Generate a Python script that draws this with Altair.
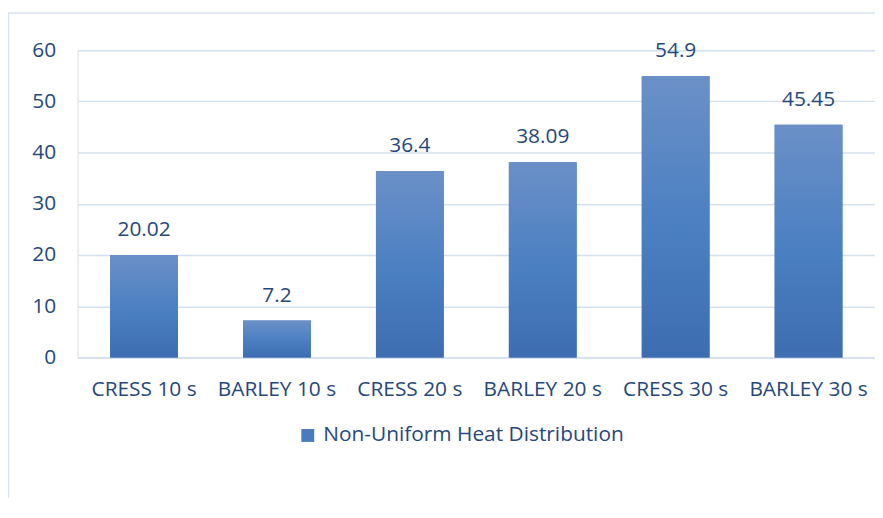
import altair as alt
import pandas as pd

categories = ["CRESS 10 s", "BARLEY 10 s", "CRESS 20 s", "BARLEY 20 s", "CRESS 30 s", "BARLEY 30 s"]
values = [20.02, 7.2, 36.4, 38.09, 54.9, 45.45]
labels = ["20.02", "7.2", "36.4", "38.09", "54.9", "45.45"]
series_name = "Non-Uniform Heat Distribution"
y_ticks = [0, 10, 20, 30, 40, 50, 60]

df = pd.DataFrame({"cat": categories, "val": values, "lab": labels, "series": series_name})

FONT = "Open Sans"
FS = 21
TXT = "#27487a"
GRID = "#d6e1f0"

x_enc = alt.X("cat:N", sort=categories, title=None,
              scale=alt.Scale(paddingInner=0.49, paddingOuter=0.245),
              axis=alt.Axis(labelAngle=0, labelFont=FONT, labelFontSize=FS, labelColor=TXT,
                            labelPadding=21, ticks=False, domain=True, domainColor=GRID,
                            domainWidth=1.5, grid=False))
y_enc = alt.Y("val:Q", title=None,
              scale=alt.Scale(domain=[0, 60], nice=False),
              axis=alt.Axis(values=y_ticks, labelFont=FONT, labelFontSize=FS, labelColor=TXT,
                            labelPadding=22, ticks=False, domain=False, grid=True,
                            gridColor=GRID, gridWidth=1.5))

base = alt.Chart(df)

legend_bars = base.mark_bar().encode(
    x=x_enc, y=y_enc,
    color=alt.Color("series:N", title=None,
                    scale=alt.Scale(range=["#4a7cbd"]),
                    legend=alt.Legend(orient="none", legendX=221, legendY=377,
                                      symbolType="square", symbolSize=169,
                                      labelFont=FONT, labelFontSize=FS, labelColor=TXT,
                                      symbolStrokeWidth=0, labelLimit=400, labelOffset=5)),
)

grad = alt.Gradient(
    gradient="linear", x1=0, x2=0, y1=0, y2=1,
    stops=[alt.GradientStop(color="#6b90c7", offset=0),
           alt.GradientStop(color="#4a7fc2", offset=0.55),
           alt.GradientStop(color="#3d6db0", offset=1)],
)
grad_bars = base.mark_bar(fill=grad).encode(x=x_enc, y=y_enc)

text = base.mark_text(baseline="bottom", dy=-15, font=FONT, fontSize=FS, color=TXT).encode(
    x=alt.X("cat:N", sort=categories), y="val:Q", text="lab:N")

frame = alt.Chart(pd.DataFrame({"a": [0]})).mark_rect(
    fill=None, stroke="#d9e3f0", strokeWidth=1.5).encode(
    x=alt.value(-69.5), x2=alt.value(900), y=alt.value(-37.5), y2=alt.value(700))

chart = alt.layer(frame, legend_bars, grad_bars, text).properties(
    width=802, height=309,
    autosize=alt.AutoSizeParams(type="none"),
    padding={"left": 70, "top": 41, "right": 0, "bottom": 140},
).configure_view(stroke=None).configure(background="white")

chart.save("out.html", embed_options={"renderer": "svg", "actions": False})
